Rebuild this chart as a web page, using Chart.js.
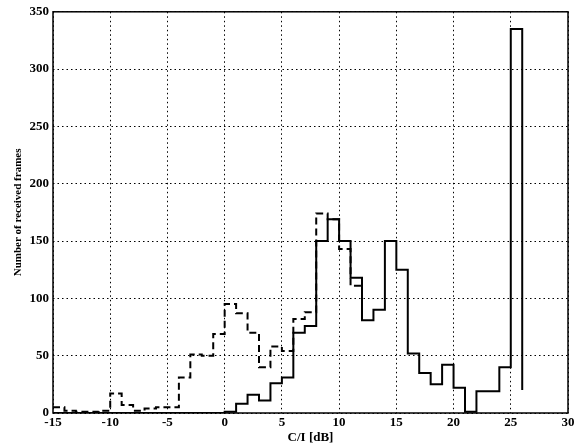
<!DOCTYPE html>
<html>
<head>
<meta charset="utf-8">
<script src="https://cdn.jsdelivr.net/npm/chart.js@4/dist/chart.umd.min.js"></script>
<style>
  html, body { margin: 0; padding: 0; background: #fff; }
  #wrap { width: 577px; height: 447px; }
</style>
</head>
<body>
<div id="wrap"><canvas id="chart" width="577" height="447"></canvas></div>
<script>
// bin left edges (dB) and counts
const solidEdges = [-15, -14, -13, -12, -11, -10, -9, -8, -7, -6, -5, -4, -3, -2, -1,
    0, 1, 2, 3, 4, 5, 6, 7, 8, 9, 10, 11, 12, 13, 14, 15, 16, 17, 18, 19, 20,
    21, 22, 23, 24, 25, 26];
const solidCounts = [0, 0, 0, 0, 0, 0, 0, 0, 0, 0, 0, 0, 0, 0, 0,
    1, 8, 16, 11, 26, 31, 70, 76, 150, 169, 150, 118, 81, 90, 150, 125, 52, 35, 25, 42, 22,
    1, 19, 19, 40, 335, 20];

const dashedEdges = [-15, -14, -13, -12, -11, -10, -9, -8, -7, -6, -5, -4, -3, -2, -1,
    0, 1, 2, 3, 4, 5, 6, 7, 8, 9, 10, 11, 12];
const dashedCounts = [5, 2, 1, 1, 2, 17, 7, 2, 4, 5, 5, 31, 51, 50, 69,
    95, 87, 70, 40, 58, 54, 82, 88, 174, 169, 143, 111, 81];

const xTicks = [-15, -10, -5, 0, 5, 10, 15, 20, 25, 30];
const yTicks = [0, 50, 100, 150, 200, 250, 300, 350];

const toPoints = (xs, ys) => xs.map((x, i) => ({ x: x, y: ys[i] }));

const serif = '"Liberation Serif", "DejaVu Serif", serif';
const tickFont = { family: serif, size: 13, weight: 'bold' };

// box round the plot area
const frame = {
    id: 'frame',
    beforeDatasetsDraw(chart) {
        const a = chart.chartArea;
        const ctx = chart.ctx;
        ctx.save();
        ctx.strokeStyle = '#000';
        ctx.lineWidth = 1.5;
        ctx.strokeRect(a.left, a.top, a.right - a.left, a.bottom - a.top);
        ctx.restore();
    }
};

new Chart(document.getElementById('chart'), {
    type: 'line',
    data: {
        datasets: [
            {
                label: 'solid',
                data: toPoints(solidEdges, solidCounts),
                borderColor: '#000',
                borderWidth: 2,
                stepped: 'before',
                pointRadius: 0,
                fill: false,
                order: 1
            },
            {
                label: 'dashed',
                data: toPoints(dashedEdges, dashedCounts),
                borderColor: '#000',
                borderWidth: 2,
                borderDash: [7, 4],
                stepped: 'before',
                pointRadius: 0,
                fill: false,
                order: 2
            }
        ]
    },
    options: {
        responsive: false,
        animation: false,
        layout: { padding: { top: 10, right: 9, left: 0, bottom: 0 } },
        plugins: { legend: { display: false }, tooltip: { enabled: false } },
        scales: {
            x: {
                type: 'linear',
                min: -15,
                max: 30,
                afterBuildTicks: s => { s.ticks = xTicks.map(v => ({ value: v })); },
                afterFit: s => { s.height = 34; },
                ticks: { font: tickFont, color: '#000', padding: 2, maxRotation: 0 },
                grid: { color: '#000', lineWidth: 1, drawTicks: false },
                border: { display: false, dash: [1.5, 3] },
                title: {
                    display: true,
                    text: 'C/I [dB]',
                    color: '#000',
                    font: { family: serif, size: 13, weight: 'bold' },
                    padding: { top: 0, bottom: 2 }
                }
            },
            y: {
                min: 0,
                max: 350,
                afterBuildTicks: s => { s.ticks = yTicks.map(v => ({ value: v })); },
                afterFit: s => { s.width = 53; },
                ticks: { font: tickFont, color: '#000', padding: 4 },
                grid: { color: '#000', lineWidth: 1, drawTicks: false },
                border: { display: false, dash: [1.5, 3] },
                title: {
                    display: true,
                    text: 'Number of received frames',
                    color: '#000',
                    font: { family: serif, size: 11, weight: 'bold' },
                    padding: { top: 12, bottom: 0 }
                }
            }
        }
    },
    plugins: [frame]
});
</script>
</body>
</html>
